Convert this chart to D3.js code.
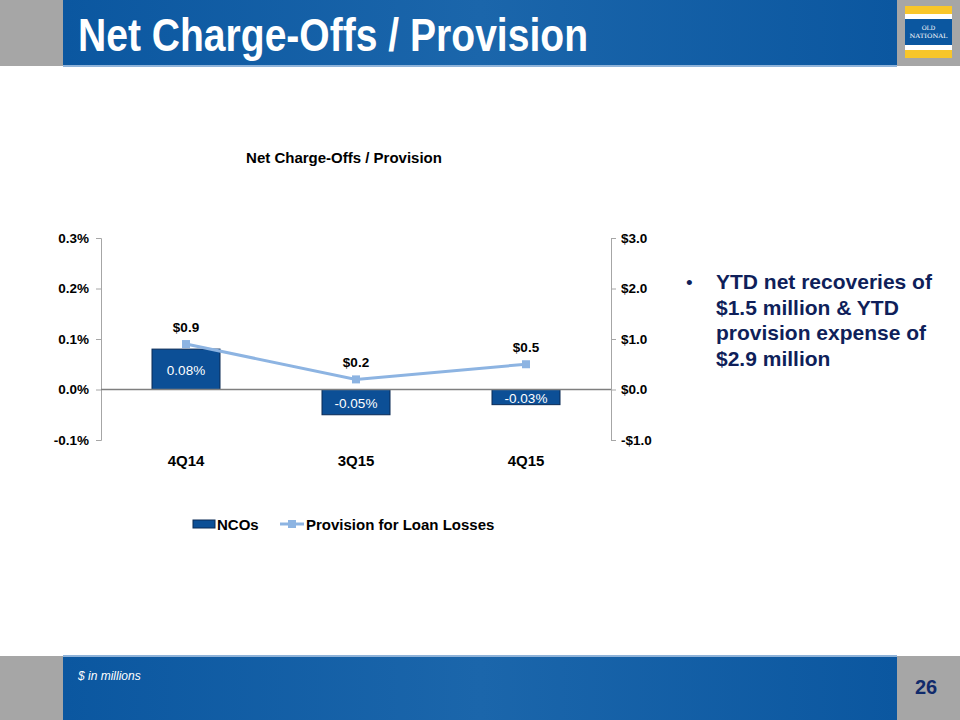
<!DOCTYPE html>
<html><head><meta charset="utf-8">
<script src="https://cdn.jsdelivr.net/npm/d3@7"></script>
<style>body{margin:0;background:#fff}svg{display:block}</style>
</head><body>
<script>
const categories = ["4Q14","3Q15","4Q15"];
const ncos = [0.08,-0.05,-0.03];
const provision = [0.9,0.2,0.5];
const leftTicks = [-0.1,0.0,0.1,0.2,0.3];
const rightTicks = [-1,0,1,2,3];
const bullet = ["YTD net recoveries of","$1.5 million & YTD","provision expense of","$2.9 million"];

const W=960,H=720;
const svg=d3.select("body").append("svg").attr("width",W).attr("height",H);
const F="Liberation Sans, Arial, sans-serif";
const fmt1=d=>d3.format(".1f")(d).replace("\u2212","-");
const fmt2=d=>d3.format(".2f")(d).replace("\u2212","-");

// header
svg.append("rect").attr("x",0).attr("y",0).attr("width",W).attr("height",66).attr("fill","#a6a6a6");
const g1=svg.append("defs").append("linearGradient").attr("id","hb");
g1.append("stop").attr("offset","0").attr("stop-color","#0b57a0");
g1.append("stop").attr("offset","0.5").attr("stop-color","#1b66ab");
g1.append("stop").attr("offset","1").attr("stop-color","#0b57a0");
svg.append("rect").attr("x",63).attr("y",0).attr("width",834).attr("height",65).attr("fill","url(#hb)");
svg.append("rect").attr("x",63).attr("y",65).attr("width",834).attr("height",2).attr("fill","#8fb3d9");
svg.append("text").attr("x",78).attr("y",51).attr("fill","#fff")
  .attr("font-family","'Liberation Sans Narrow','Arial Narrow',"+F).attr("font-weight","bold")
  .attr("font-size",46).attr("textLength",510).attr("lengthAdjust","spacingAndGlyphs")
  .text("Net Charge-Offs / Provision");
// logo
const lg=svg.append("g");
lg.append("rect").attr("x",905).attr("y",6).attr("width",47).attr("height",52).attr("fill","#f8c62a");
lg.append("rect").attr("x",905).attr("y",14).attr("width",47).attr("height",36).attr("fill","#fff");
lg.append("rect").attr("x",905).attr("y",19).attr("width",47).attr("height",26).attr("fill","#0b57a0");
lg.append("text").attr("x",928.5).attr("y",30).attr("text-anchor","middle").attr("fill","#fff")
  .attr("font-family","'DejaVu Serif',serif").attr("font-size",6).text("OLD");
lg.append("text").attr("x",928.5).attr("y",38).attr("text-anchor","middle").attr("fill","#fff")
  .attr("font-family","'DejaVu Serif',serif").attr("font-size",6).attr("textLength",38).attr("lengthAdjust","spacingAndGlyphs").text("NATIONAL");

// footer
svg.append("rect").attr("x",0).attr("y",656).attr("width",W).attr("height",64).attr("fill","#a6a6a6");
svg.append("rect").attr("x",63).attr("y",656).attr("width",834).attr("height",64).attr("fill","url(#hb)");
svg.append("rect").attr("x",63).attr("y",655).attr("width",834).attr("height",2).attr("fill","#8fb3d9");
svg.append("text").attr("x",78).attr("y",680).attr("fill","#fff").attr("font-family",F)
  .attr("font-style","italic").attr("font-size",12).text("$ in millions");
svg.append("text").attr("x",926).attr("y",694).attr("fill","#102a6b").attr("font-family","'Liberation Sans Narrow',"+F)
  .attr("font-weight","bold").attr("font-size",20).attr("text-anchor","middle").text("26");

// chart
const x0=101,x1=611,yTop=238,yBot=440;
const x=d3.scaleBand().domain(categories).range([x0,x1]).paddingInner(0.6).paddingOuter(0.3);
const xc=d3.scalePoint().domain(categories).range([x0,x1]).padding(0.5);
const yL=d3.scaleLinear().domain([-0.1,0.3]).range([yBot,yTop]);
const yR=d3.scaleLinear().domain([-1,3]).range([yBot,yTop]);

svg.append("text").attr("x",344).attr("y",163).attr("text-anchor","middle").attr("font-family",F)
  .attr("font-weight","bold").attr("font-size",15).attr("fill","#000").text("Net Charge-Offs / Provision");

const axL=svg.append("g").attr("transform",`translate(${x0},0)`)
  .call(d3.axisLeft(yL).tickValues(leftTicks).tickSize(5).tickPadding(7).tickFormat(d=>fmt1(d)+"%"));
const axR=svg.append("g").attr("transform",`translate(${x1},0)`)
  .call(d3.axisRight(yR).tickValues(rightTicks).tickSize(5).tickPadding(5).tickFormat(d=>(d<0?"-$":"$")+fmt1(Math.abs(d))));
[axL,axR].forEach(a=>{
  a.selectAll("path,line").attr("stroke","#a6a6a6");
  a.selectAll("text").attr("font-family",F).attr("font-weight","bold").attr("font-size",13.5).attr("fill","#000");
});

// bars
svg.selectAll("rect.bar").data(categories).enter().append("rect").attr("class","bar")
  .attr("x",d=>x(d)).attr("width",x.bandwidth())
  .attr("y",(d,i)=>yL(Math.max(0,ncos[i]))).attr("height",(d,i)=>Math.abs(yL(ncos[i])-yL(0)))
  .attr("fill","#0c4f96").attr("stroke","#0a2a55").attr("stroke-width",1);
// zero line
svg.append("line").attr("x1",x0).attr("x2",x1).attr("y1",yL(0)).attr("y2",yL(0)).attr("stroke","#7f7f7f").attr("stroke-width",1.5);
svg.selectAll("text.bl").data(categories).enter().append("text").attr("class","bl")
  .attr("x",d=>xc(d)).attr("y",(d,i)=>(yL(ncos[i])+yL(0))/2+6).attr("text-anchor","middle")
  .attr("font-family",F).attr("font-size",13.5).attr("fill","#fff")
  .text((d,i)=>fmt2(ncos[i])+"%");

// line
const lc="#8db4e2";
svg.append("path").datum(categories).attr("fill","none").attr("stroke",lc).attr("stroke-width",3)
  .attr("d",d3.line().x(d=>xc(d)).y((d,i)=>yR(provision[i])));
svg.selectAll("rect.mk").data(categories).enter().append("rect").attr("class","mk")
  .attr("x",d=>xc(d)-4).attr("y",(d,i)=>yR(provision[i])-4).attr("width",8).attr("height",8).attr("fill",lc);
svg.selectAll("text.pl").data(categories).enter().append("text").attr("class","pl")
  .attr("x",d=>xc(d)).attr("y",(d,i)=>yR(provision[i])-12).attr("text-anchor","middle")
  .attr("font-family",F).attr("font-weight","bold").attr("font-size",13.5).attr("fill","#000")
  .text((d,i)=>"$"+fmt1(provision[i]));

// category labels
svg.selectAll("text.cat").data(categories).enter().append("text").attr("class","cat")
  .attr("x",d=>xc(d)).attr("y",466).attr("text-anchor","middle")
  .attr("font-family",F).attr("font-weight","bold").attr("font-size",15).attr("fill","#000").text(d=>d);

// legend
svg.append("rect").attr("x",193).attr("y",520).attr("width",22).attr("height",8).attr("fill","#0c4f96").attr("stroke","#0a2a55");
svg.append("text").attr("x",217).attr("y",530).attr("font-family",F).attr("font-weight","bold").attr("font-size",15).text("NCOs");
svg.append("line").attr("x1",280).attr("x2",304).attr("y1",524).attr("y2",524).attr("stroke",lc).attr("stroke-width",3);
svg.append("rect").attr("x",288).attr("y",520).attr("width",8).attr("height",8).attr("fill",lc);
svg.append("text").attr("x",306).attr("y",530).attr("font-family",F).attr("font-weight","bold").attr("font-size",15).text("Provision for Loan Losses");

// bullet text
svg.append("text").attr("x",686).attr("y",289).attr("font-family",F).attr("font-size",19).attr("fill","#0f1f5a").text("•");
svg.selectAll("text.bt").data(bullet).enter().append("text").attr("class","bt")
  .attr("x",716).attr("y",(d,i)=>289+i*25.5).attr("font-family",F).attr("font-weight","bold")
  .attr("font-size",21).attr("fill","#0f1f5a").text(d=>d);
</script>
</body></html>
